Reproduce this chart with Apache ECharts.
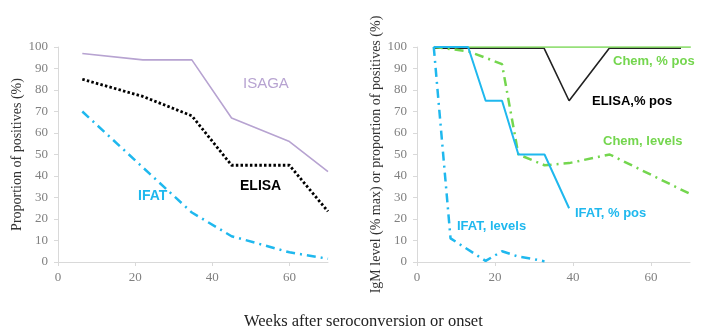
<!DOCTYPE html>
<html>
<head>
<meta charset="utf-8">
<script src="https://cdn.jsdelivr.net/npm/echarts@6/dist/echarts.min.js"></script>
<style>
html, body { margin: 0; padding: 0; background: #fff; }
#main { width: 709px; height: 335px; }
</style>
</head>
<body>
<div id="main"></div>
<script>
// left panel: proportion of positives
var weeksL = [6.3, 22, 34.7, 45, 60, 70];
var isaga = [97, 94, 94, 67, 56, 42];
var elisaL = [85, 77, 68, 45, 45, 23.5];
var ifatL = [70, 44, 23, 12, 4.5, 1.5];

// right panel: IgM levels / % positives
var chemPosX = [4.3, 70.2];
var chemPosY = [100, 100];
var elisaPosX = [4.3, 32.6, 39, 49.3, 67.7];
var elisaPosY = [99.4, 99.4, 75, 99.4, 99.4];
var ifatPosX = [4.3, 13.1, 17.6, 21.8, 26, 32.7, 39];
var ifatPosY = [100, 100, 75, 75, 50, 50, 25];
var chemLevX = [4.3, 13.1, 17.6, 21.8, 26, 32.7, 39, 49.4, 70.2];
var chemLevY = [100, 98, 95, 92, 50, 45, 46, 50, 31.5];
var ifatLevX = [4.3, 8.6, 17.6, 21.8, 26, 29.5, 32.7];
var ifatLevY = [100, 11, 0.5, 5, 2.5, 1.5, 0.3];

function pairs(xs, ys) {
	return xs.map(function (x, i) { return [x, ys[i]]; });
}

var serif = '"Liberation Serif", "DejaVu Serif", serif';
var sans = '"Liberation Sans", Arial, sans-serif';
var cyan = '#1fb8ee';
var green = '#74d64e';

function xAx(idx) {
	return {
		type: 'value', gridIndex: idx, min: 0, max: 70, interval: 20,
		axisLine: { lineStyle: { color: '#d9d9d9' } },
		axisTick: { show: true, length: 4, lineStyle: { color: '#d9d9d9' } },
		axisLabel: { color: '#808080', fontFamily: serif, fontSize: 13, margin: 9, showMaxLabel: false },
		splitLine: { show: false }
	};
}
function yAx(idx, name, gap) {
	return {
		type: 'value', gridIndex: idx, min: 0, max: 100, interval: 10,
		name: name, nameLocation: 'middle', nameGap: gap,
		nameTextStyle: { color: '#333', fontFamily: serif, fontSize: 14 },
		axisLine: { show: true, lineStyle: { color: '#d9d9d9' } },
		axisTick: { show: true, length: 4, lineStyle: { color: '#d9d9d9' } },
		axisLabel: { color: '#808080', fontFamily: serif, fontSize: 13, margin: 10 },
		splitLine: { show: false }
	};
}

var dashDot = [9, 5, 2, 5];

var myChart = echarts.init(document.getElementById('main'));
var option = {
	animation: false,
	grid: [
		{ left: 58, right: 381, top: 47, bottom: 73 },
		{ left: 417, right: 19, top: 47, bottom: 73 }
	],
	xAxis: [xAx(0), xAx(1)],
	yAxis: [
		yAx(0, 'Proportion of positives (%)', 26),
		yAx(1, 'IgM level (% max) or proportion of positives (%)', 34)
	],
	series: [
		{ type: 'line', xAxisIndex: 0, yAxisIndex: 0, data: pairs(weeksL, isaga), symbol: 'none',
			lineStyle: { color: '#b7a3d1', width: 1.6 } },
		{ type: 'line', xAxisIndex: 0, yAxisIndex: 0, data: pairs(weeksL, elisaL), symbol: 'none',
			lineStyle: { color: '#000', width: 2.8, type: [2.5, 2.2] } },
		{ type: 'line', xAxisIndex: 0, yAxisIndex: 0, data: pairs(weeksL, ifatL), symbol: 'none',
			lineStyle: { color: cyan, width: 2.5, type: dashDot } },

		{ type: 'line', xAxisIndex: 1, yAxisIndex: 1, data: pairs(elisaPosX, elisaPosY), symbol: 'none',
			lineStyle: { color: '#222', width: 1.6 } },
		{ type: 'line', xAxisIndex: 1, yAxisIndex: 1, data: pairs(chemPosX, chemPosY), symbol: 'none',
			lineStyle: { color: green, width: 1.3 } },
		{ type: 'line', xAxisIndex: 1, yAxisIndex: 1, data: pairs(chemLevX, chemLevY), symbol: 'none',
			lineStyle: { color: green, width: 2.5, type: dashDot } },
		{ type: 'line', xAxisIndex: 1, yAxisIndex: 1, data: pairs(ifatLevX, ifatLevY), symbol: 'none',
			lineStyle: { color: cyan, width: 2.5, type: dashDot } },
		{ type: 'line', xAxisIndex: 1, yAxisIndex: 1, data: pairs(ifatPosX, ifatPosY), symbol: 'none',
			lineStyle: { color: cyan, width: 2 } }
	],
	graphic: [
		{ type: 'text', left: 243, top: 76, style: { text: 'ISAGA', fill: '#b7a3d1', font: '15px ' + sans } },
		{ type: 'text', left: 240, top: 179, style: { text: 'ELISA', fill: '#000', font: 'bold 14px ' + sans } },
		{ type: 'text', left: 138, top: 189, style: { text: 'IFAT', fill: cyan, font: 'bold 14px ' + sans } },
		{ type: 'text', left: 613, top: 55, style: { text: 'Chem, % pos', fill: green, font: 'bold 13px ' + sans } },
		{ type: 'text', left: 592, top: 95, style: { text: 'ELISA,% pos', fill: '#000', font: 'bold 13px ' + sans } },
		{ type: 'text', left: 603, top: 135, style: { text: 'Chem, levels', fill: green, font: 'bold 13px ' + sans } },
		{ type: 'text', left: 575, top: 207, style: { text: 'IFAT, % pos', fill: cyan, font: 'bold 13px ' + sans } },
		{ type: 'text', left: 457, top: 220, style: { text: 'IFAT, levels', fill: cyan, font: 'bold 13px ' + sans } },
		{ type: 'text', left: 244, top: 313, style: { text: 'Weeks after seroconversion or onset', fill: '#222', font: '16.5px ' + serif } }
	]
};
myChart.setOption(option);
</script>
</body>
</html>
